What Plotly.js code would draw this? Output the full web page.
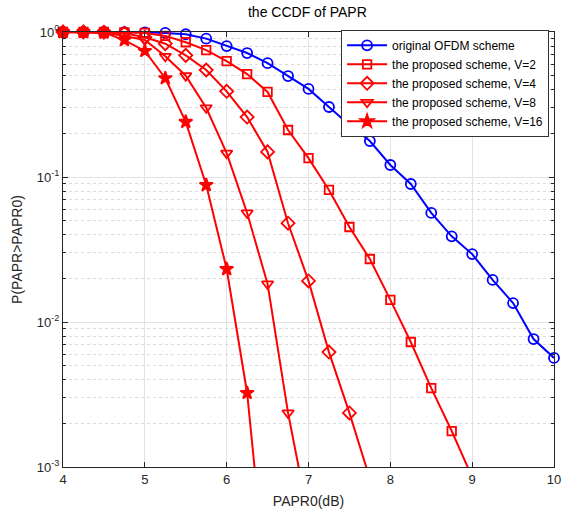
<!DOCTYPE html>
<html>
<head>
<meta charset="utf-8">
<script src="https://cdn.plot.ly/plotly-3.0.1.min.js"></script>
<style>
html,body{margin:0;padding:0;background:#fff;}
#chart{width:564px;height:515px;}
</style>
</head>
<body>
<div id="chart"></div>
<script>
// PAPR0 thresholds (dB)
const papr0 = [4, 4.25, 4.5, 4.75, 5, 5.25, 5.5, 5.75, 6, 6.25, 6.5, 6.75, 7,
               7.25, 7.5, 7.75, 8, 8.25, 8.5, 8.75, 9, 9.25, 9.5, 9.75, 10];

const ccdfOriginal = [1, 1, 1, 0.999, 0.995, 0.985, 0.965, 0.9, 0.8, 0.716, 0.61, 0.497, 0.405,
                      0.304, 0.228, 0.177, 0.121, 0.0895, 0.0565, 0.039, 0.0294, 0.0195, 0.0135, 0.00763, 0.00565];
const ccdfV2  = [1, 1, 1, 0.995, 0.985, 0.94, 0.85, 0.75, 0.63, 0.513, 0.386, 0.211, 0.135,
                 0.0814, 0.0452, 0.0272, 0.0142, 0.00728, 0.0035, 0.00177, 0.00085];
const ccdfV4  = [1, 1, 0.995, 0.98, 0.92, 0.83, 0.69, 0.547, 0.39, 0.259, 0.149, 0.048, 0.0192,
                 0.0062, 0.00236, 0.00083];
const ccdfV8  = [1, 1, 0.99, 0.94, 0.88, 0.68, 0.50, 0.30, 0.146, 0.0565, 0.0183, 0.00236, 0.00045];
const ccdfV16 = [1, 1, 0.99, 0.88, 0.74, 0.48, 0.24, 0.088, 0.0232, 0.00324, 0.000125];

const seriesNames = ['original OFDM scheme',
                     'the proposed scheme, V=2',
                     'the proposed scheme, V=4',
                     'the proposed scheme, V=8',
                     'the proposed scheme, V=16'];

const xTicks = [4, 5, 6, 7, 8, 9, 10];
const yTickVals = [0.001, 0.01, 0.1, 1];
const yTickText = ['10<sup>-3</sup>', '10<sup>-2</sup>', '10<sup>-1</sup>', '10<sup>0</sup>'];

const FONT = 'Liberation Sans, Arial, Helvetica, sans-serif';

function mk(vals, name, color, symbol, size) {
  return {
    x: papr0.slice(0, vals.length),
    y: vals,
    name: name,
    type: 'scatter',
    mode: 'lines+markers',
    cliponaxis: false,
    line: {color: color, width: 2},
    marker: {symbol: symbol, size: size, color: color, line: {color: color, width: 1.8}}
  };
}

const data = [
  mk(ccdfOriginal, seriesNames[0], '#0000ff', 'circle-open', 10),
  mk(ccdfV2, seriesNames[1], '#ff0000', 'square-open', 8.5),
  mk(ccdfV4, seriesNames[2], '#ff0000', 'diamond-open', 10),
  mk(ccdfV8, seriesNames[3], '#ff0000', 'triangle-down-open', 10),
  mk(ccdfV16, seriesNames[4], '#ff0000', 'star', 10)
];

const layout = {
  width: 564, height: 515,
  margin: {l: 63, r: 10, t: 32, b: 48, pad: 0},
  paper_bgcolor: '#ffffff',
  plot_bgcolor: '#ffffff',
  font: {family: FONT, size: 13, color: '#262626'},
  title: {text: 'the CCDF of PAPR', x: 0.545, xanchor: 'center', y: 0.977, yanchor: 'middle',
          font: {family: FONT, size: 14, color: '#000'}},
  showlegend: true,
  legend: {
    x: 0.99, xanchor: 'right', y: 1.005, yanchor: 'top',
    bgcolor: '#ffffff', bordercolor: '#333333', borderwidth: 1,
    font: {family: FONT, size: 12, color: '#000'},
    tracegroupgap: 0, itemwidth: 40
  },
  xaxis: {
    range: [4, 10],
    tickvals: xTicks,
    ticks: 'inside', ticklen: 5, tickcolor: '#262626',
    showline: true, linecolor: '#262626', linewidth: 1, mirror: 'ticks',
    showgrid: true, gridcolor: '#e3e3e3', gridwidth: 1,
    zeroline: false,
    tickfont: {family: FONT, size: 13, color: '#262626'},
    title: {text: 'PAPR0(dB)', font: {family: FONT, size: 14, color: '#262626'}, standoff: 10}
  },
  yaxis: {
    type: 'log',
    range: [-3, 0],
    tickvals: yTickVals,
    ticktext: yTickText,
    ticks: 'inside', ticklen: 5, tickcolor: '#262626',
    showline: true, linecolor: '#262626', linewidth: 1, mirror: 'ticks',
    showgrid: true, gridcolor: '#e3e3e3', gridwidth: 1,
    zeroline: false,
    tickfont: {family: FONT, size: 13, color: '#262626'},
    minor: {dtick: 'D1', showgrid: true, gridcolor: '#dadada', griddash: 'dot', gridwidth: 1,
            ticks: 'inside', ticklen: 3, tickcolor: '#262626'},
    title: {text: 'P(PAPR>PAPR0)', font: {family: FONT, size: 14, color: '#262626'}, standoff: 10}
  }
};

Plotly.newPlot('chart', data, layout, {displayModeBar: false, staticPlot: true});
</script>
</body>
</html>
